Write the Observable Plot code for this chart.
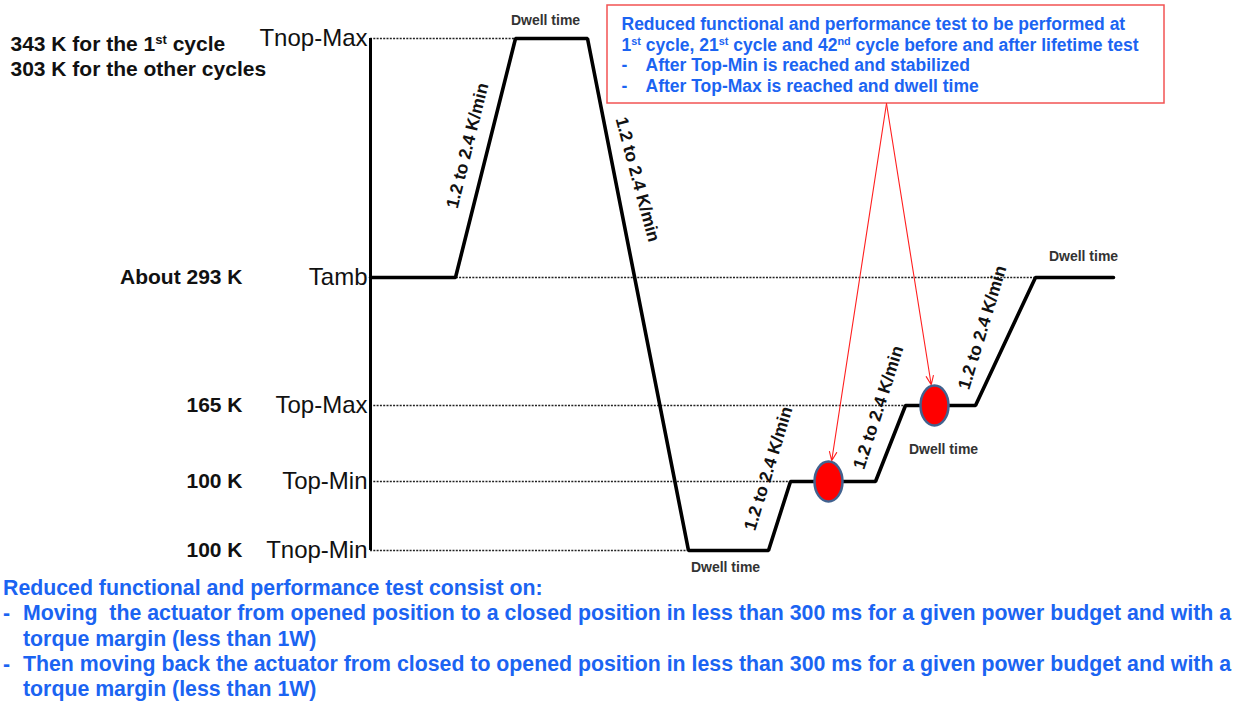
<!DOCTYPE html>
<html>
<head>
<meta charset="utf-8">
<script src="https://cdn.jsdelivr.net/npm/d3@7"></script>
<script src="https://cdn.jsdelivr.net/npm/@observablehq/plot@0.6"></script>
<style>
  body { margin: 0; background: #fff; font-family: "Liberation Sans", Arial, sans-serif; }
  #wrap { position: relative; width: 1245px; height: 702px; overflow: hidden; }
  #caption { position: absolute; left: 0; top: 576px; width: 1245px; color: #1b64f2; font-weight: bold; font-size: 21.3px; line-height: 25.3px; white-space: nowrap; }
  #caption .item { position: relative; padding-left: 23px; }
  #caption .item::before { content: "-"; position: absolute; left: 3px; top: 0; }
  #caption .title { padding-left: 3px; }
</style>
</head>
<body>
<div id="wrap">
  <div id="chart"></div>
  <div id="caption"></div>
</div>
<script>
// ---- Temperature levels (vertical position in diagram units, not to scale) ----
const levelNames = ["Tnop-Min", "Top-Min", "Top-Max", "Tamb", "Tnop-Max"];
const levelPos = [0, 69, 145, 273, 512];
const levelKelvin = ["100 K", "100 K", "165 K", "About 293 K", ""];
const maxLevelNote = "343 K for the 1^{st} cycle\n303 K for the other cycles";

// ---- Thermal cycle profile (time in arbitrary units, level name) ----
const profileTime = [0, 8.5, 14.5, 21.7, 31.8, 39.8, 42.0, 50.5, 53.5, 60.5, 66.5, 74.3];
const profileLevel = ["Tamb", "Tamb", "Tnop-Max", "Tnop-Max", "Tnop-Min", "Tnop-Min",
                      "Top-Min", "Top-Min", "Top-Max", "Top-Max", "Tamb", "Tamb"];

// ---- Reduced functional test points ----
const testTime = [45.8, 56.4];
const testLevel = ["Top-Min", "Top-Max"];

// ---- Ramp rate labels ----
const rampText = "1.2 to 2.4 K/min";
const rampX = [9.7, 26.7, 39.8, 50.8, 61.2];
const rampY = [405, 371, 82, 143, 223];
const rampAngle = [-76, 75, -73, -72, -73];

// ---- Dwell time labels ----
const dwellText = "Dwell time";
const dwellX = [17.5, 35.5, 57.3, 71.3];
const dwellY = [530, -17, 101, 294];

// ---- Annotation box ----
const boxX = [23.7, 79.4];
const boxY = [447, 545];
const boxHead = "Reduced functional and performance test to be performed at\n1^{st} cycle, 21^{st} cycle and 42^{nd} cycle before and after lifetime test";
const boxItems = ["After Top-Min is reached and stabilized", "After Top-Max is reached and dwell time"];
const boxHeadPos = {x: 25.1, y: 517};
const boxItemX = [25.1, 27.5];
const boxItemY = [485, 464];
const arrowFrom = {x: 51.6, y: 447};

// ---- Caption (one array entry per printed line) ----
const captionTitle = "Reduced functional and performance test consist on:";
const captionItems = [
  ["Moving\u00a0 the actuator from opened position to a closed position in less than 300 ms for a given power budget and with a", "torque margin (less than 1W)"],
  ["Then moving back the actuator from closed to opened position in less than 300 ms for a given power budget and with a", "torque margin (less than 1W)"]
];

// ---- Build tables ----
const levelOf = Object.fromEntries(levelNames.map((n, i) => [n, levelPos[i]]));
const levels = levelNames.map((n, i) => ({name: n, y: levelPos[i], k: levelKelvin[i]}));
const profile = profileTime.map((t, i) => ({x: t, y: levelOf[profileLevel[i]]}));
const tests = testTime.map((t, i) => ({x: t, y: levelOf[testLevel[i]]}));
const ramps = rampX.map((x, i) => ({x, y: rampY[i], a: rampAngle[i]}));
const dwells = dwellX.map((x, i) => ({x, y: dwellY[i]}));

// dotted reference lines: from the axis to where the profile (re)reaches the level
const guides = levels.map(L => {
  let x2 = 0;
  for (let i = 1; i < profile.length; i++) {
    if (profile[i].y === L.y && profile[i - 1].y !== L.y) { x2 = profile[i].x; break; }
  }
  return {y: L.y, x1: 0, x2};
});

const ellipse = {
  draw(ctx, size) {
    const r = Math.sqrt(size / Math.PI), rx = r * 0.7, ry = r, k = 0.5523;
    ctx.moveTo(rx, 0);
    ctx.bezierCurveTo(rx, k * ry, k * rx, ry, 0, ry);
    ctx.bezierCurveTo(-k * rx, ry, -rx, k * ry, -rx, 0);
    ctx.bezierCurveTo(-rx, -k * ry, -k * rx, -ry, 0, -ry);
    ctx.bezierCurveTo(k * rx, -ry, rx, -k * ry, rx, 0);
    ctx.closePath();
  }
};

const blue = "#1b64f2";

const chart = Plot.plot({
  width: 1245,
  height: 576,
  marginLeft: 370,
  marginRight: 0,
  marginTop: 38,
  marginBottom: 26,
  style: {fontFamily: "'Liberation Sans', Arial, sans-serif", background: "#fff", overflow: "visible"},
  x: {domain: [0, 87.5], axis: null},
  y: {domain: [0, 512], axis: null},
  marks: [
    // dotted level guides
    Plot.ruleY(guides, {y: "y", x1: "x1", x2: "x2", stroke: "#222", strokeWidth: 1.4, strokeDasharray: "2,1.3"}),
    // y axis with level names
    Plot.axisY(levelPos, {anchor: "left", tickSize: 0, tickPadding: 3, fontSize: 24, fill: "#111",
      tickFormat: v => levelNames[levelPos.indexOf(v)], label: null}),
    Plot.ruleX([0], {y1: 0, y2: 512, stroke: "#000", strokeWidth: 3}),
    // kelvin values
    Plot.text(levels.filter(d => d.k), {x: 0, y: "y", text: "k", dx: -128, textAnchor: "end",
      fontSize: 21, fontWeight: "bold", fill: "#111"}),
    Plot.text([maxLevelNote], {x: 0, y: levelOf["Tnop-Max"], text: d => d, dx: -360, dy: 17, textAnchor: "start",
      lineAnchor: "middle", lineHeight: 1.19, fontSize: 21, fontWeight: "bold", fill: "#111"}),
    // profile
    Plot.line(profile, {x: "x", y: "y", stroke: "#000", strokeWidth: 3.6, strokeLinejoin: "miter"}),
    // ramp labels
    Plot.text(ramps, {x: "x", y: "y", rotate: "a", text: () => rampText, fontSize: 17.5, fontWeight: "bold", fill: "#111"}),
    // dwell labels
    Plot.text(dwells, {x: "x", y: "y", text: () => dwellText, fontSize: 14, fontWeight: "bold", fill: "#333"}),
    // annotation box
    Plot.rect([0], {x1: boxX[0], x2: boxX[1], y1: boxY[0], y2: boxY[1], fill: "#fff", stroke: "#f25353", strokeWidth: 1.5}),
    Plot.text([boxHead], {x: boxHeadPos.x, y: boxHeadPos.y, text: d => d, textAnchor: "start", lineHeight: 1.24,
      fontSize: 17.5, fontWeight: "bold", fill: blue}),
    Plot.text(boxItems, {x: boxItemX[0], y: (d, i) => boxItemY[i], text: () => "-", textAnchor: "start", fontSize: 17.5, fontWeight: "bold", fill: blue}),
    Plot.text(boxItems, {x: boxItemX[1], y: (d, i) => boxItemY[i], text: d => d, textAnchor: "start", fontSize: 17.5, fontWeight: "bold", fill: blue}),
    // arrows to test points
    Plot.arrow(tests, {x1: () => arrowFrom.x, y1: () => arrowFrom.y, x2: "x", y2: "y", insetEnd: 21,
      stroke: "#ff1f1f", strokeWidth: 1.1, headLength: 13, headAngle: 45}),
    // test points
    Plot.dot(tests, {x: "x", y: "y", r: 20, symbol: ellipse, fill: "#ff0000", stroke: "#41628f", strokeWidth: 2.5})
  ]
});

// superscripts written as ^{...}
const svgNS = "http://www.w3.org/2000/svg";
chart.querySelectorAll("text, tspan").forEach(el => {
  if (el.childNodes.length === 1 && el.firstChild.nodeType === 3 && el.textContent.includes("^{")) {
    const s = el.textContent;
    el.textContent = "";
    s.split(/(\^\{[^}]*\})/).forEach(part => {
      if (!part) return;
      if (part.startsWith("^{")) {
        const t = document.createElementNS(svgNS, "tspan");
        t.setAttribute("baseline-shift", "super");
        t.setAttribute("font-size", "62%");
        t.textContent = part.slice(2, -1);
        el.appendChild(t);
      } else {
        el.appendChild(document.createTextNode(part));
      }
    });
  }
});

document.getElementById("chart").appendChild(chart);

const cap = document.getElementById("caption");
const t = document.createElement("div");
t.className = "title";
t.textContent = captionTitle;
cap.appendChild(t);
captionItems.forEach(lines => {
  const d = document.createElement("div");
  d.className = "item";
  lines.forEach((s, i) => {
    if (i) d.appendChild(document.createElement("br"));
    d.appendChild(document.createTextNode(s));
  });
  cap.appendChild(d);
});
</script>
</body>
</html>
